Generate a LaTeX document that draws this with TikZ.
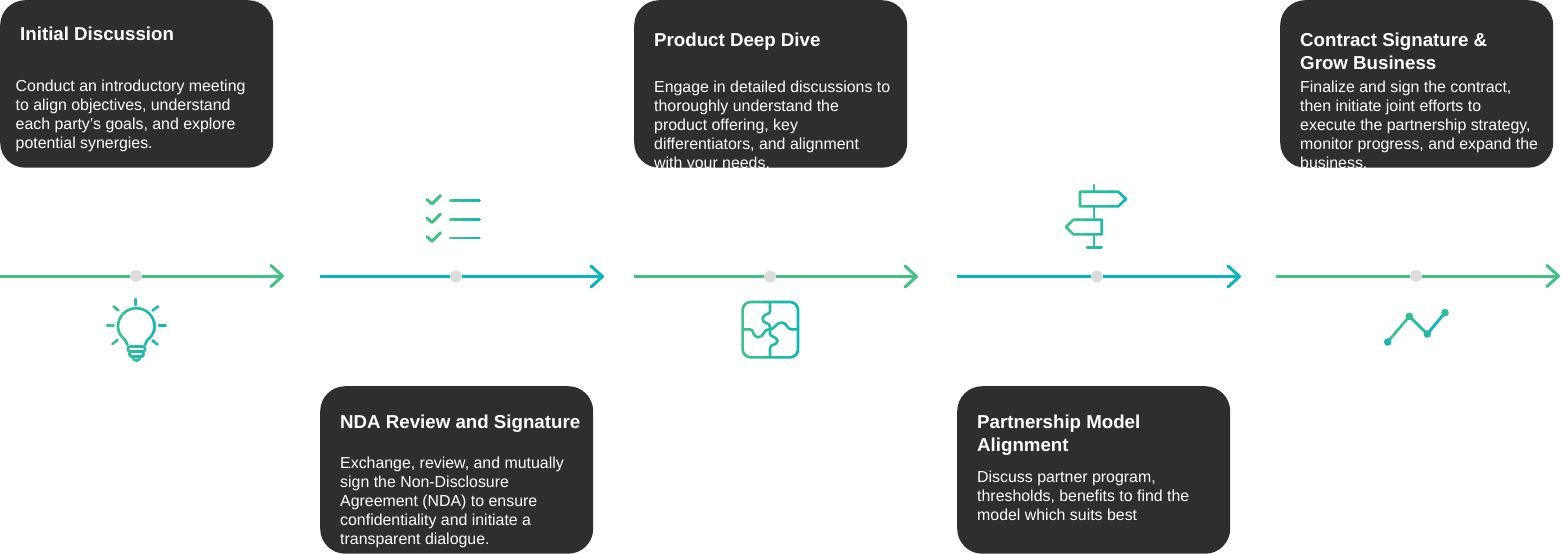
\documentclass[tikz,border=0pt]{standalone}
\usepackage{fontspec}
\setmainfont{Liberation Sans}
\usetikzlibrary{arrows.meta}
\definecolor{flowgreen}{HTML}{41C283}
\definecolor{flowteal}{HTML}{09B5C1}
\definecolor{cardfill}{HTML}{2E2E2E}
\definecolor{dotgray}{HTML}{DCDCDC}
\tikzset{
  card/.style={fill=cardfill,rounded corners=25pt,minimum width=273pt,minimum height=167.5pt,anchor=north west,inner sep=0pt},
  cardtitle/.style={text=white,anchor=north west,inner sep=0pt,align=left,font=\fontsize{18.7}{23}\selectfont\bfseries},
  cardbody/.style={text=white,anchor=north west,inner sep=0pt,align=left,font=\fontsize{15.9}{19}\selectfont},
  flow/.style={line width=3pt,-{Straight Barb[length=11.5pt,width=21pt,line width=3pt,round]}},
  stop/.style={circle,fill=dotgray,minimum size=12pt,inner sep=0pt},
  iconthin/.style={draw=stripc,line width=2.6pt,line cap=round,line join=round}
}
% Draws the given strokes with a left-to-right green to teal gradient, one vertical strip at a time.
\newcommand{\gradstrokes}[5]{%
  \foreach \i in {0,...,23}{%
    \pgfmathsetmacro\xa{#1+(#2-#1)*\i/24}%
    \pgfmathsetmacro\xb{#1+(#2-#1)*(\i+1)/24+0.4}%
    \pgfmathsetmacro\pc{100*(\i+0.5)/24}%
    \colorlet{stripc}{flowteal!\pc!flowgreen}%
    \begin{scope}
      \clip (\xa,#3) rectangle (\xb,#4);
      #5
    \end{scope}
  }%
}
\begin{document}
\begin{tikzpicture}[x=1pt,y=-1pt]
\useasboundingbox (0,0) rectangle (1561,554);

% Cards
\node[card] (c1) at (0,0) {};
\node[card] (c2) at (320,386) {};
\node[card] (c3) at (634,0) {};
\node[card] (c4) at (957,386) {};
\node[card] (c5) at (1280,0) {};

\node[cardtitle] (t1) at (20,26.5) {Initial Discussion};
\node[cardbody] (b1) at (15.5,80) {Conduct an introductory meeting\\to align objectives, understand\\each party’s goals, and explore\\potential synergies.};

\node[cardtitle] (t2) at (340,415) {NDA Review and Signature};
\node[cardbody] (b2) at (340,456.5) {Exchange, review, and mutually\\sign the Non-Disclosure\\Agreement (NDA) to ensure\\confidentiality and initiate a\\transparent dialogue.};

\begin{scope}
  \clip[rounded corners=25pt] (c3.north west) rectangle (c3.south east);
  \node[cardtitle] (t3) at (654,33) {Product Deep Dive};
  \node[cardbody] (b3) at (654,81) {Engage in detailed discussions to\\thoroughly understand the\\product offering, key\\differentiators, and alignment\\with your needs.};
\end{scope}

\node[cardtitle] (t4) at (977,415) {Partnership Model\\Alignment};
\node[cardbody] (b4) at (977,470.5) {Discuss partner program,\\thresholds, benefits to find the\\model which suits best};

\begin{scope}
  \clip[rounded corners=25pt] (c5.north west) rectangle (c5.south east);
  \node[cardtitle] (t5) at (1300,33) {Contract Signature \&\\Grow Business};
  \node[cardbody] (b5) at (1300,81) {Finalize and sign the contract,\\then initiate joint efforts to\\execute the partnership strategy,\\monitor progress, and expand the\\business.};
\end{scope}

% Timeline arrows with their stops
\coordinate (a1s) at (0,276);    \coordinate (a1e) at (284,276);
\coordinate (a2s) at (320,276.5);\coordinate (a2e) at (604,276.5);
\coordinate (a3s) at (634,276.5);\coordinate (a3e) at (918,276.5);
\coordinate (a4s) at (957,276.5);\coordinate (a4e) at (1241,276.5);
\coordinate (a5s) at (1276,276); \coordinate (a5e) at (1560,276);
\draw[flow,flowgreen] (a1s) -- (a1e);
\draw[flow,flowteal]  (a2s) -- (a2e);
\draw[flow,flowgreen] (a3s) -- (a3e);
\draw[flow,flowteal]  (a4s) -- (a4e);
\draw[flow,flowgreen] (a5s) -- (a5e);
\node[stop] (s1) at (136,276) {};
\node[stop] (s2) at (456,276.5) {};
\node[stop] (s3) at (770,276.5) {};
\node[stop] (s4) at (1097,276.5) {};
\node[stop] (s5) at (1416,276) {};

% Light bulb
\gradstrokes{103}{169}{294}{364}{
  \draw[iconthin] (127.5,345) .. controls (127,339) and (118,337) .. (118,326.5)
     arc[start angle=180,end angle=360,radius=18.3]
     .. controls (154.6,337) and (145.5,339) .. (145,345);
  \draw[iconthin,rounded corners=2pt] (128,346.5) rectangle (145,351.5);
  \draw[iconthin,rounded corners=2pt] (129.5,351.5) rectangle (143.5,356.5);
  \draw[iconthin] (132.5,356.5) .. controls (133,362) and (140,362) .. (140.5,356.5);
  \draw[iconthin] (135.7,299) -- (135.7,305);
  \draw[iconthin] (113.5,306.5) -- (118.5,310.5);
  \draw[iconthin] (158,306.5) -- (152.5,310.5);
  \draw[iconthin] (107,325.5) -- (113.5,325.5);
  \draw[iconthin] (159,325.5) -- (165.5,325.5);
  \draw[iconthin] (112.5,344) -- (117.5,340);
  \draw[iconthin] (157.5,344.5) -- (152.5,340.5);
}

% Checklist
\foreach \y in {0,18.6,37.2}{
  \draw[line width=3pt,line cap=round,line join=round,flowgreen]
    (427,199.5+\y) -- (432,204+\y) -- (440.5,195.5+\y);
}
\gradstrokes{448}{482}{196}{243}{
  \draw[iconthin] (450.5,200.7) -- (479.5,200.7);
  \draw[iconthin] (450.5,219.3) -- (479.5,219.3);
  \draw[iconthin] (450.5,237.9) -- (479.5,237.9);
}

% Puzzle
\gradstrokes{740}{801}{299}{360}{
  \begin{scope}[shift={(720,260)},x=0.3333pt,y=-0.3333pt]
    \draw[iconthin,rounded corners=8pt] (68,126) rectangle (234,292);
    \draw[iconthin] (150,126) -- (150,155) .. controls (150,165) and (128,160) .. (128,177)
      .. controls (128,192) and (150,187) .. (150,200) -- (150,222)
      .. controls (150,232) and (172,228) .. (172,243)
      .. controls (172,258) and (150,250) .. (150,265) -- (150,292);
    \draw[iconthin] (68,208) -- (90,208) .. controls (102,208) and (98,232) .. (115,232)
      .. controls (132,232) and (128,208) .. (150,208)
      .. controls (165,208) and (165,188) .. (187,188)
      .. controls (200,188) and (200,208) .. (215,208) -- (234,208);
  \end{scope}
}

% Signpost
\gradstrokes{1063}{1129}{182}{251}{
  \draw[iconthin] (1094,185) -- (1094,191.7);
  \draw[iconthin] (1094,206.3) -- (1094,219.7);
  \draw[iconthin] (1094,234.3) -- (1094,247.7);
  \draw[iconthin] (1087,247.7) -- (1101.5,247.7);
  \draw[iconthin] (1080,191.7) -- (1118.3,191.7) -- (1126,199) -- (1118.3,206.3) -- (1080,206.3) -- cycle;
  \draw[iconthin] (1101.7,219.7) -- (1073.3,219.7) -- (1066,227) -- (1073.3,234.3) -- (1101.7,234.3) -- cycle;
}

% Rising chart
\gradstrokes{1384}{1450}{308}{347}{
  \draw[iconthin] (1387.7,342) -- (1409.3,316.3);
}
\draw[line width=2.8pt,line cap=round,flowgreen!50!flowteal] (1409.3,316.3) -- (1427.3,334);
\draw[line width=2.8pt,line cap=round,flowteal] (1427.3,334) -- (1445,312.7);
\fill[flowgreen!30!flowteal] (1387.7,342) circle (3.8pt);
\fill[flowgreen!75!flowteal] (1409.3,316.3) circle (3.8pt);
\fill[flowgreen!50!flowteal] (1427.3,334) circle (3.8pt);
\fill[flowgreen!60!flowteal] (1445,312.7) circle (3.8pt);
\end{tikzpicture}
\end{document}
